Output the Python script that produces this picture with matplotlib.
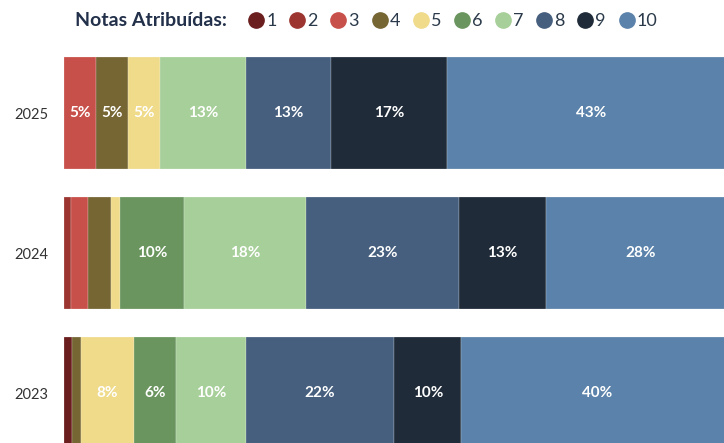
import numpy as np
import matplotlib.pyplot as plt
from matplotlib.lines import Line2D

# Data (% of votes per grade)
# ======================================================
YEARS = ["2025", "2024", "2023"]
GRADES = ["1", "2", "3", "4", "5", "6", "7", "8", "9", "10"]
SHARES = {
    "2025": [0.0, 0.0, 4.8, 4.8, 4.8, 0.0, 12.7, 12.7, 17.4, 42.8],
    "2024": [0.0, 1.0, 2.6, 3.4, 1.3, 9.6, 18.2, 22.8, 13.1, 28.0],
    "2023": [1.2, 0.0, 0.0, 1.3, 7.9, 6.3, 10.4, 22.2, 10.0, 40.4],
}
COLORS = ["#6B1E1E", "#9C3530", "#C8504A", "#766633", "#EFDB8A",
          "#6A955E", "#A7CF99", "#465F7E", "#1F2B38", "#5B82AA"]

plt.rcParams['font.family'] = ['Lato', 'DejaVu Sans']

fig = plt.figure(figsize=(7.24, 4.43), dpi=100)
ax = fig.add_axes([64/724, 0, 660/724, 398/443])

# Stacked horizontal bars
for yi, year in enumerate(YEARS):
    left = 0.0
    for gi, val in enumerate(SHARES[year]):
        if val > 0:
            ax.barh(yi, val, left=left, height=0.8, color=COLORS[gi],
                    edgecolor='white', linewidth=0.15)
            if val >= 4.5:
                ax.text(left + val/2, yi, f"{round(val)}%", ha='center', va='center',
                        color='white', fontsize=11, fontweight='bold')
        left += val

ax.set_yticks(range(len(YEARS)))
ax.set_yticklabels(YEARS, fontsize=10.5, color='#333333')
ax.tick_params(axis='y', length=0, pad=11)
ax.set_xticks([])
ax.set_xlim(0, 98.5)
ax.set_ylim(2.357, -0.486)
for s in ax.spines.values():
    s.set_visible(False)

# Legend row at top
fig.text(75/724, 1 - 21/443, "Notas Atribuídas:", fontsize=14, fontweight='bold',
         color='#22304A', ha='left', va='center')
handles = [Line2D([0], [0], marker='o', linestyle='none', markersize=11,
                  markerfacecolor=c, markeredgecolor=c) for c in COLORS]
fig.legend(handles, GRADES, ncol=10, loc='center left',
           bbox_to_anchor=(249/724, 1 - 21/443), frameon=False,
           handlelength=0.8, handletextpad=0.15, columnspacing=0.75,
           fontsize=13, labelcolor='#2B3A4A', borderpad=0, borderaxespad=0)

fig.savefig('out.png', dpi=100)
plt.close()
